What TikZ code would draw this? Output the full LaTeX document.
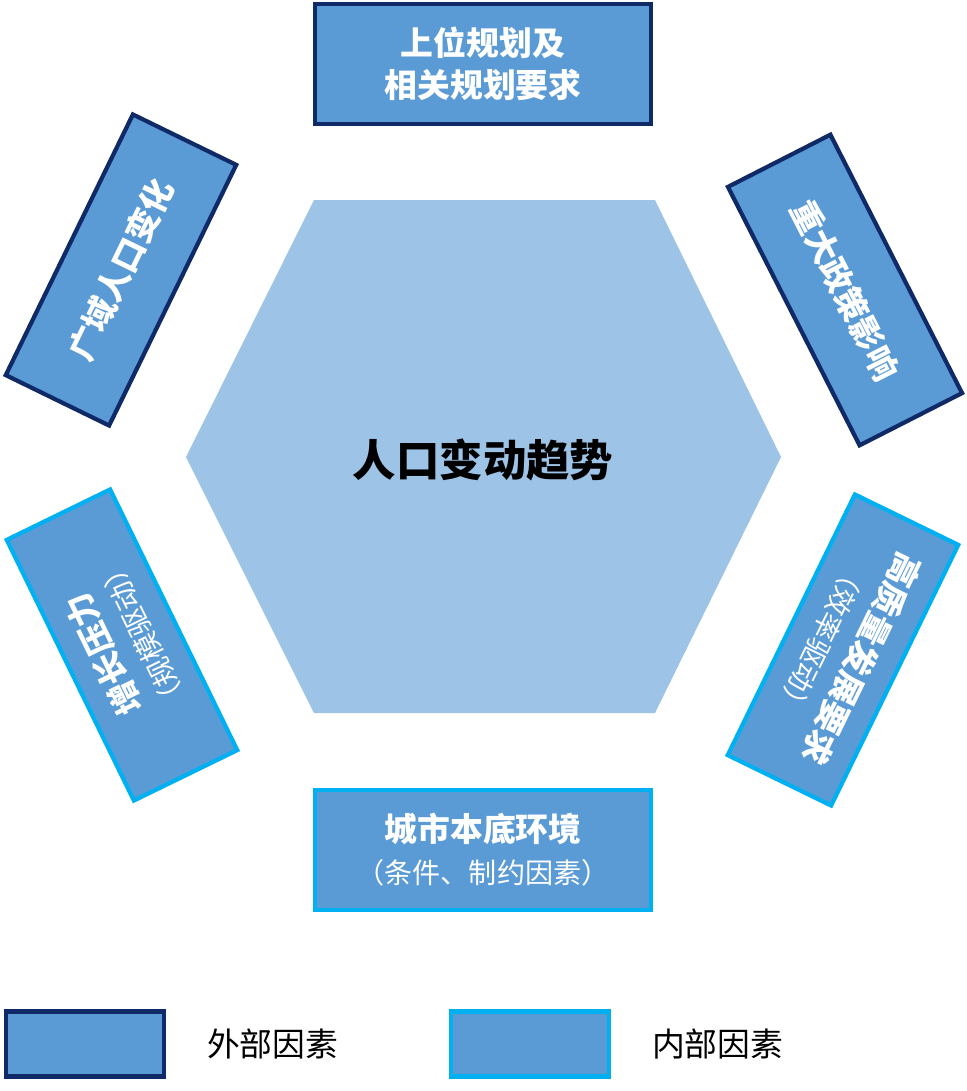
\documentclass[tikz,border=0pt]{standalone}
\usepackage{fontspec}
\setmainfont{Noto Sans CJK SC}
\usetikzlibrary{positioning}
\definecolor{hexfill}{HTML}{9DC3E6}
\definecolor{boxfill}{HTML}{5B9BD5}
\definecolor{navy}{HTML}{102A68}
\definecolor{cyanline}{HTML}{00B0F0}
\newcommand{\subnote}[1]{{\fontsize{24}{30}\selectfont\mdseries #1}}
\tikzset{
  factor/.style={rectangle, draw, line width=3.6pt, fill=boxfill, text=white, align=center,
    font=\fontsize{28}{36}\selectfont\bfseries, inner sep=2pt},
  outer/.style={factor, draw=navy},
  inner/.style={factor, draw=cyanline},
  wide/.style={minimum width=10.1cm, minimum height=3.6cm},
  slant/.style={minimum width=8.7cm, minimum height=3.45cm},
  legendbox/.style={rectangle, line width=3.6pt, fill=boxfill, minimum width=4.75cm, minimum height=1.95cm},
  legendtext/.style={font=\fontsize{28}{34}\selectfont}
}
\begin{document}
\begin{tikzpicture}[x=0.03cm, y=-0.03cm]
    \useasboundingbox (0,0) rectangle (966,1091);
    % center hexagon
    \fill[hexfill] (314,200) -- (655,200) -- (781,457) -- (655,713) -- (314,713) -- (186,457) -- cycle;
    \node (trend) at (483,460) {\fontsize{37}{42}\selectfont\bfseries 人口变动趋势};

    % factors
    \node (plan) [outer, wide] at (483,64) {上位规划及\\相关规划要求};
    \node (region) [outer, slant, rotate=64] at (121,270) {广域人口变化};
    \node (policy) [outer, slant, rotate=-63] at (845,290) {重大政策影响};
    \node (growth) [inner, slant, rotate=116] at (122,645) {增长压力\\\subnote{（规模驱动）}};
    \node (quality) [inner, slant, rotate=-116] at (843,650) {高质量发展要求\\\subnote{（效率驱动）}};
    \node (base) [inner, wide] at (483,850) {城市本底环境\\\subnote{（条件、制约因素）}};

    % legend
    \node (extbox) [legendbox, draw=navy] at (85,1044) {};
    \node (exttext) [legendtext, right=1.1cm of extbox] {外部因素};
    \node (intbox) [legendbox, draw=cyanline] at (530,1044) {};
    \node (inttext) [legendtext, right=1.1cm of intbox] {内部因素};
\end{tikzpicture}
\end{document}
